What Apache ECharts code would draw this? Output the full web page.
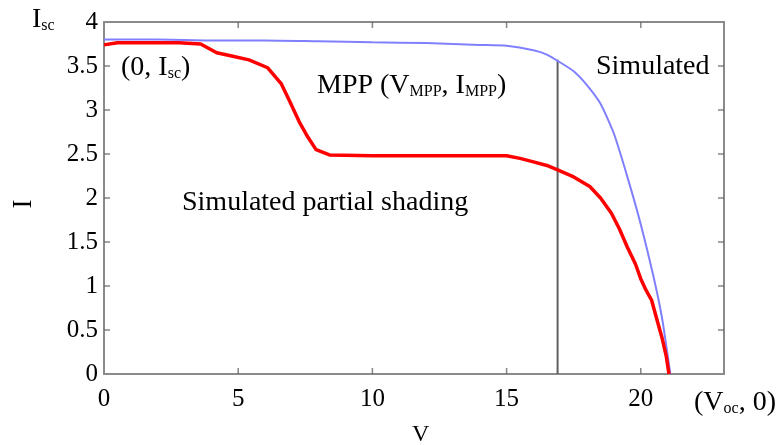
<!DOCTYPE html>
<html>
<head>
<meta charset="utf-8">
<script src="https://cdn.jsdelivr.net/npm/echarts@6/dist/echarts.min.js"></script>
<style>
  html, body { margin: 0; padding: 0; background: #fff; }
  #chart { width: 780px; height: 445px; }
</style>
</head>
<body>
<div id="chart"></div>
<script>
// I-V curves
var simV = [0, 2, 4, 6, 8, 10, 12, 14, 15, 16, 16.5, 17.0, 17.5, 18.0, 18.5, 19.0, 19.5, 20.0, 20.5, 20.8, 21.1];
var simI = [3.80, 3.80, 3.79, 3.79, 3.78, 3.77, 3.76, 3.74, 3.73, 3.68, 3.63, 3.54, 3.44, 3.28, 3.07, 2.73, 2.24, 1.70, 1.07, 0.62, 0];

var shadeV = [0, 0.5, 2.8, 3.6, 4.2, 4.8, 5.4, 6.1, 6.6, 6.9, 7.3, 7.6, 7.9, 8.4, 10, 12, 14, 15, 15.5, 16, 16.5, 16.9, 17.5, 18.1, 18.5, 18.9, 19.2, 19.5, 19.8, 20.0, 20.2, 20.4, 20.6, 20.8, 20.95, 21.05];
var shadeI = [3.74, 3.765, 3.765, 3.75, 3.65, 3.61, 3.57, 3.48, 3.30, 3.11, 2.85, 2.69, 2.55, 2.49, 2.48, 2.48, 2.48, 2.48, 2.45, 2.41, 2.37, 2.32, 2.24, 2.13, 2.00, 1.83, 1.65, 1.44, 1.25, 1.08, 0.95, 0.84, 0.62, 0.40, 0.20, 0];

var mppV = [16.9, 16.9];
var mppI = [0, 3.57];

var xMax = 23.1, yMax = 4;
var xTicks = [5, 10, 15, 20];
var yTicks = [0.5, 1, 1.5, 2, 2.5, 3, 3.5];

function pairs(xs, ys) {
    return xs.map(function (x, i) { return [x, ys[i]]; });
}

var serif = '"Liberation Serif", "Times New Roman", serif';
var tickColor = '#666666';
function boxLine() {
    return { show: true, onZero: false, lineStyle: { color: '#8a8a8a', width: 2 } };
}
var richSub = {
    a: { fontSize: 28, fontFamily: serif, fill: '#000', lineHeight: 28 },
    s: { fontSize: 16, fontFamily: serif, fill: '#000', lineHeight: 8, verticalAlign: 'bottom' }
};

function label(x, y, text) {
    return { type: 'text', x: x, y: y, style: { text: text, rich: richSub, fontSize: 28, fontFamily: serif, fill: '#000' } };
}

function xAxis(pos, showLabel) {
    return {
        type: 'value', position: pos, min: 0, max: xMax, interval: 5,
        axisLine: boxLine(), axisTick: { show: false }, splitLine: { show: false },
        axisLabel: { show: showLabel, showMaxLabel: false, margin: 13, color: '#000', fontSize: 25, fontFamily: serif }
    };
}
function yAxis(pos, showLabel) {
    return {
        type: 'value', position: pos, min: 0, max: yMax, interval: 0.5,
        axisLine: boxLine(), axisTick: { show: false }, splitLine: { show: false },
        axisLabel: { show: showLabel, margin: 6, color: '#000', fontSize: 25, fontFamily: serif }
    };
}

// inward tick marks as small rect symbols sitting on the frame
function tickSeries(data, size, offset) {
    return {
        type: 'scatter', data: data, symbol: 'rect', symbolSize: size, symbolOffset: offset,
        itemStyle: { color: tickColor }, silent: true, clip: false, z: 10
    };
}

var chart = echarts.init(document.getElementById('chart'), null, { renderer: 'canvas' });
chart.setOption({
    animation: false,
    grid: { left: 104, right: 56, top: 22, bottom: 71 },
    xAxis: [xAxis('bottom', true), xAxis('top', false)],
    yAxis: [yAxis('left', true), yAxis('right', false)],
    series: [
        {
            type: 'line', data: pairs(simV, simI), symbol: 'none', smooth: 0.2,
            lineStyle: { color: '#8080ff', width: 2 }, z: 3
        },
        {
            type: 'line', data: pairs(shadeV, shadeI), symbol: 'none',
            lineStyle: { color: '#ff0000', width: 3.5 }, z: 4
        },
        {
            type: 'line', data: pairs(mppV, mppI), symbol: 'none',
            lineStyle: { color: '#606060', width: 2 }, z: 2
        },
        tickSeries(xTicks.map(function (v) { return [v, 0]; }), [1.5, 6], [0, -3]),
        tickSeries(xTicks.map(function (v) { return [v, yMax]; }), [1.5, 6], [0, 3]),
        tickSeries(yTicks.map(function (v) { return [0, v]; }), [6, 1.5], [3, 0]),
        tickSeries(yTicks.map(function (v) { return [xMax, v]; }), [6, 1.5], [-3, 0])
    ],
    graphic: [
        label(32, 6, '{a|I}{s|sc}'),
        label(121, 54, '{a|(0, I}{s|sc}{a|)}'),
        label(317, 72, '{a|MPP (V}{s|MPP}{a|, I}{s|MPP}{a|)}'),
        label(596, 53, '{a|Simulated}'),
        label(182, 189, '{a|Simulated partial shading}'),
        label(694, 389, '{a|(V}{s|oc}{a|, 0)}'),
        {
            type: 'text', x: 24, y: 204, rotation: Math.PI / 2,
            style: { text: 'I', fontSize: 27, fontFamily: serif, fill: '#000', align: 'center', verticalAlign: 'middle' }
        },
        { type: 'text', x: 412, y: 423, style: { text: 'V', fontSize: 24, fontFamily: serif, fill: '#000' } }
    ]
});
</script>
</body>
</html>
